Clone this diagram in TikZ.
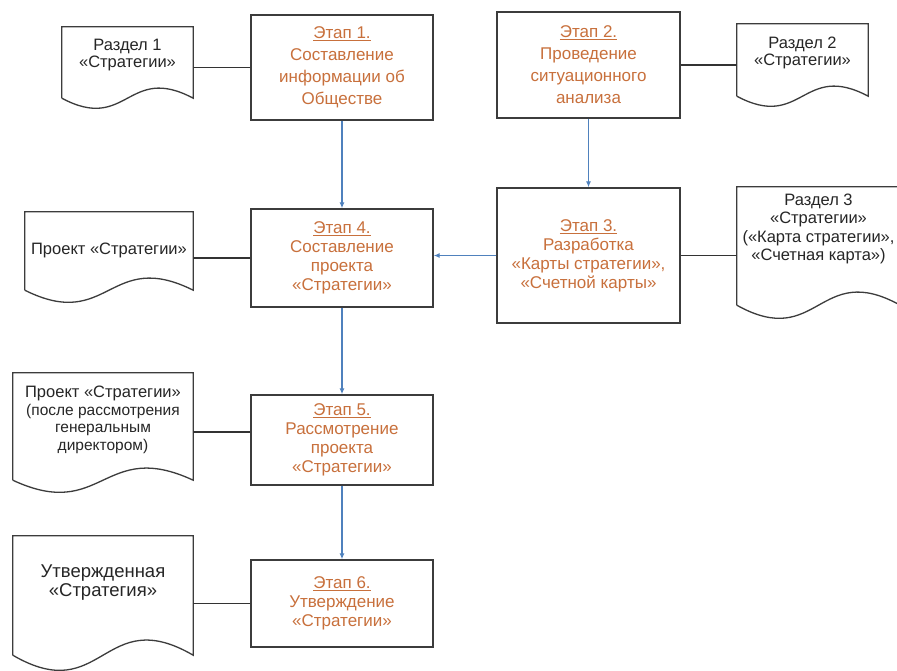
\documentclass[tikz,border=0pt]{standalone}
\usepackage{fontspec}
\setmainfont{Liberation Sans}
\usepackage{xcolor}
\usetikzlibrary{arrows.meta,calc}

\definecolor{stagetext}{RGB}{200,112,60}
\definecolor{framegray}{RGB}{60,60,60}
\definecolor{arrowblue}{RGB}{79,129,189}
\newcommand{\smalldoc}{\fontsize{15.5}{17}\selectfont}

\tikzset{
  stage/.style={draw=framegray,line width=1.4pt,fill=white,align=center,text=stagetext,
    inner sep=2pt,minimum width=182pt,font=\fontsize{17}{19}\selectfont},
  doc/.style={inner sep=0pt},
  docline/.style={draw=framegray,line width=1.3pt},
  doctext/.style={align=center,text=black!85,font=\fontsize{16.5}{17.5}\selectfont},
  link/.style={black!80,line width=1.3pt},
  flow/.style={arrowblue,line width=1.2pt,-{Latex[length=6pt,width=5pt]}}
}

\begin{document}
\begin{tikzpicture}[x=1pt,y=1pt]
\path[use as bounding box,fill=white] (0,0) rectangle (897,-670);

\node[stage,minimum height=105pt,font=\fontsize{17}{22}\selectfont] (s1) at (342,-67.5)
  {\underline{Этап 1.}\\Составление\\информации об\\Обществе};
\node[stage,minimum width=183pt,minimum height=106pt,font=\fontsize{17}{22}\selectfont] (s2) at (588.5,-65)
  {\underline{Этап 2.}\\Проведение\\ситуационного\\анализа};
\node[stage,minimum width=183pt,minimum height=135pt] (s3) at (588.5,-255.5)
  {\underline{Этап 3.}\\Разработка\\«Карты стратегии»,\\«Счетной карты»};
\node[stage,minimum height=98pt] (s4) at (342,-258)
  {\underline{Этап 4.}\\Составление\\проекта\\«Стратегии»};
\node[stage,minimum height=90pt] (s5) at (342,-440)
  {\underline{Этап 5.}\\Рассмотрение\\проекта\\«Стратегии»};
\node[stage,minimum height=87pt] (s6) at (342,-603.5)
  {\underline{Этап 6.}\\Утверждение\\«Стратегии»};

\node[doc,minimum width=131pt,minimum height=71pt] (d1) at (127.5,-62.5) {};
\node[doc,minimum width=131pt,minimum height=72pt] (d2) at (802.5,-60) {};
\node[doc,minimum width=163pt,minimum height=118pt] (d3) at (818.5,-246) {};
\node[doc,minimum width=168pt,minimum height=78pt] (d4) at (109,-251) {};
\node[doc,minimum width=180pt,minimum height=107pt] (d5) at (103,-426.5) {};
\node[doc,minimum width=180pt,minimum height=119pt] (d6) at (103,-595.5) {};

\foreach \d/\a in {d1/10,d2/10,d3/13,d4/12,d5/12,d6/15}
  \draw[docline] let \p1=(\d.south west), \p2=(\d.south east) in
    (\p1) |- (\d.north east) -- (\p2)
    .. controls +({-(\x2-\x1)/2},{3.5*\a}) and +({(\x2-\x1)/2},{-3.5*\a}) .. (\p1);

\node[doctext] (d1t) at ([yshift=7.5pt]d1.center) {Раздел 1\\«Стратегии»};
\node[doctext] (d2t) at ([yshift=7pt]d2.center) {Раздел 2\\«Стратегии»};
\node[doctext,font=\fontsize{16.5}{18.3}\selectfont] (d3t) at ([yshift=17pt]d3.center)
  {Раздел 3\\«Стратегии»\\(«Карта стратегии»,\\«Счетная карта»)};
\node[doctext] (d4t) at ([yshift=1pt]d4.center) {Проект «Стратегии»};
\node[doctext] (d5t) at ([yshift=6.5pt]d5.center)
  {Проект «Стратегии»\\{\smalldoc (после рассмотрения}\\{\smalldoc генеральным}\\{\smalldoc директором)}};
\node[doctext,font=\fontsize{18.5}{19}\selectfont] (d6t) at ([yshift=12.5pt]d6.center)
  {Утвержденная\\«Стратегия»};

\draw[link] (s1.west) -- (s1.west -| d1.east);
\draw[link] (s2.east) -- (s2.east -| d2.west);
\draw[link] (s3.east) -- (s3.east -| d3.west);
\draw[link] (s4.west) -- (s4.west -| d4.east);
\draw[link] ([yshift=8pt]s5.west) -- ([yshift=8pt]s5.west -| d5.east);
\draw[link] (s6.west) -- (s6.west -| d6.east);

\draw[flow] (s1.south) -- (s4.north);
\draw[flow] (s2.south) -- (s3.north);
\draw[flow] (s3.west) -- (s3.west -| s4.east);
\draw[flow] (s4.south) -- (s5.north);
\draw[flow] (s5.south) -- (s6.north);
\end{tikzpicture}
\end{document}
